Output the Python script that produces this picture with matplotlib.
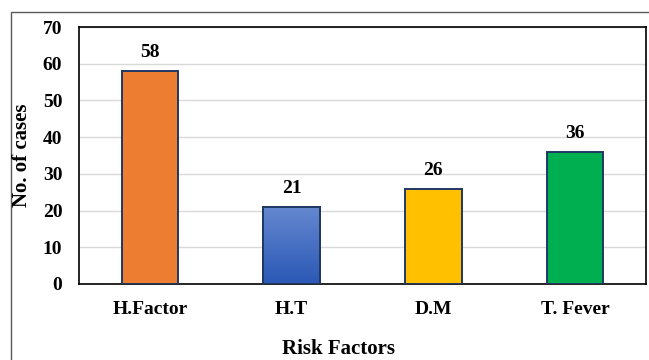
import numpy as np
import matplotlib
matplotlib.use("Agg")
import matplotlib.pyplot as plt
from matplotlib.patches import Rectangle
from matplotlib.colors import LinearSegmentedColormap

categories = ["H.Factor", "H.T", "D.M", "T. Fever"]
cases = [58, 21, 26, 36]
colors = ["#ED7D31", "#4472C4", "#FFC000", "#00B050"]
y_ticks = [0, 10, 20, 30, 40, 50, 60, 70]

plt.rcParams["font.family"] = ["Liberation Serif", "DejaVu Serif"]
plt.rcParams["font.weight"] = "bold"

fig = plt.figure(figsize=(6.49, 3.6), dpi=100)
ax = fig.add_axes([79 / 649, 1 - 284 / 360, 567 / 649, 257 / 360])

# outer frame around the chart area
frame = Rectangle((11 / 649, -0.05), 1.2, 1 - 12 / 360 + 0.05,
                  transform=fig.transFigure, fill=False,
                  edgecolor="#595959", linewidth=1.0, zorder=0)
fig.patches.append(frame)

x = np.arange(len(categories))
bars = ax.bar(x, cases, width=0.40, color=colors, edgecolor="#1F3864",
              linewidth=1.4, zorder=3)

# vertical gradient on the blue bar
blue_bar = bars[1]
grad = np.linspace(0, 1, 256).reshape(-1, 1)
cmap = LinearSegmentedColormap.from_list("blue_grad", ["#2A58B5", "#6688D0"])
bx, by = blue_bar.get_x(), blue_bar.get_y()
bw, bh = blue_bar.get_width(), blue_bar.get_height()
img = ax.imshow(grad, cmap=cmap, origin="lower", aspect="auto",
                extent=[bx, bx + bw, by, by + bh], zorder=3.5)
img.set_clip_path(blue_bar)
ax.bar(x[1], cases[1], width=0.40, fill=False, edgecolor="#1F3864",
       linewidth=1.4, zorder=4)

for xi, v in zip(x, cases):
    ax.annotate(str(v), (xi, v), xytext=(0, 7), textcoords="offset points",
                ha="center", va="bottom", fontsize=14, fontweight="bold")

ax.set_xlim(-0.5, len(categories) - 0.5)
ax.set_ylim(0, 70)
ax.set_yticks(y_ticks)
ax.set_xticks(x)
ax.set_xticklabels(categories)
ax.tick_params(axis="both", length=0, labelsize=14)
ax.tick_params(axis="y", pad=12)
ax.tick_params(axis="x", pad=12)
for lbl in ax.get_xticklabels() + ax.get_yticklabels():
    lbl.set_fontweight("bold")

ax.grid(axis="y", color="#D9D9D9", linewidth=1.0, zorder=0)
ax.set_axisbelow(True)
for s in ax.spines.values():
    s.set_color("black")
    s.set_linewidth(1.2)

fig.text(22 / 649, 1 - 155 / 360, "No. of cases", rotation=90,
         ha="center", va="center", fontsize=15, fontweight="bold")
fig.text(339 / 649, 1 - 359 / 360, "Risk Factors",
         ha="center", va="bottom", fontsize=15, fontweight="bold")

fig.savefig("out.png", dpi=100)
